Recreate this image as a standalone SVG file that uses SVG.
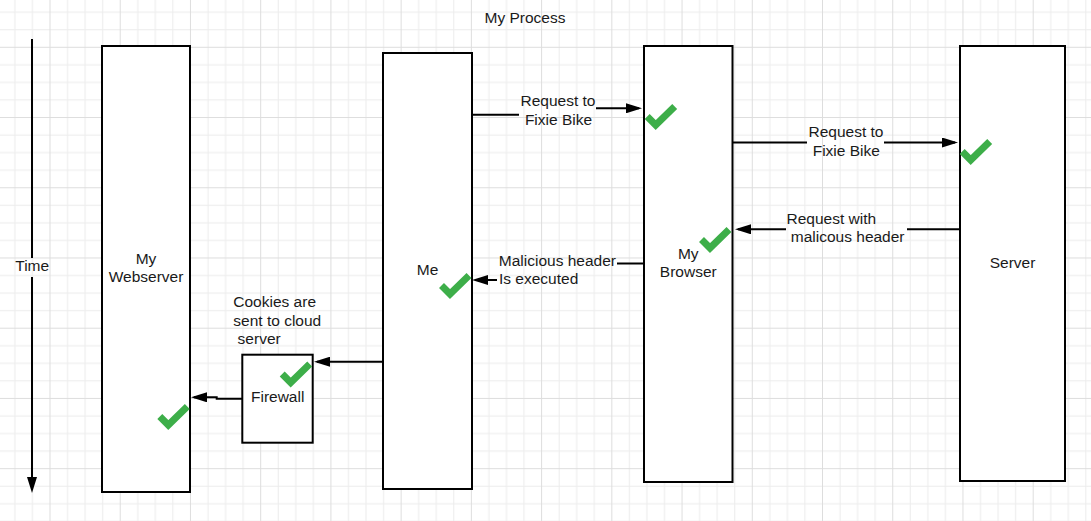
<svg xmlns="http://www.w3.org/2000/svg" width="1091" height="521" viewBox="0 0 1091 521">
<style>
  text { font-family: "Liberation Sans", Arial, sans-serif; font-size: 15.5px; fill: #1a1a1a; }
  .c { text-anchor: middle; }
  .box { fill: #ffffff; stroke: #000000; stroke-width: 2; }
  .ln { fill: none; stroke: #000000; stroke-width: 2; }
  .chk { fill: none; stroke: #3dae49; stroke-width: 7; stroke-linejoin: miter; stroke-linecap: butt; }
</style>
<defs>
  <pattern id="grid" patternUnits="userSpaceOnUse" x="49.5" y="46.8" width="70.228" height="70.228">
    <rect x="17.557" y="0" width="1" height="70.228" fill="#ececec"/>
    <rect x="35.114" y="0" width="1" height="70.228" fill="#ececec"/>
    <rect x="52.671" y="0" width="1" height="70.228" fill="#ececec"/>
    <rect x="0" y="17.557" width="70.228" height="1" fill="#ececec"/>
    <rect x="0" y="35.114" width="70.228" height="1" fill="#ececec"/>
    <rect x="0" y="52.671" width="70.228" height="1" fill="#ececec"/>
    <rect x="0" y="0" width="1" height="70.228" fill="#dddddd"/>
    <rect x="0" y="0" width="70.228" height="1" fill="#dddddd"/>
  </pattern>
  <marker id="ah" viewBox="0 0 16 10" refX="13" refY="5" markerWidth="16" markerHeight="10" markerUnits="userSpaceOnUse" orient="auto">
    <path d="M0,0 L16,5 L0,10 z" fill="#000"/>
  </marker>
  <path id="check" d="M-8.5,-8.5 L0,0 L19,-18.5"/>
</defs>
<rect x="0" y="0" width="1091" height="521" fill="#ffffff"/>
<rect x="0" y="0" width="1091" height="521" fill="url(#grid)"/>

<text class="c" x="525" y="23.3">My Process</text>

<g id="time-axis">
  <path class="ln" d="M32,39 V258"/>
  <path class="ln" d="M32,277 V490" marker-end="url(#ah)"/>
  <text class="c" x="32.2" y="271">Time</text>
</g>

<g id="webserver">
  <rect class="box" x="102" y="46" width="88" height="446"/>
  <text class="c" x="146" y="264">My</text>
  <text class="c" x="146" y="282.3">Webserver</text>
</g>

<g id="firewall">
  <rect class="box" x="242.3" y="354.7" width="70.4" height="88"/>
  <text class="c" x="277.7" y="401.7">Firewall</text>
</g>

<g id="me">
  <rect class="box" x="383" y="53" width="89" height="436"/>
  <text class="c" x="427.5" y="274.5">Me</text>
</g>

<g id="browser">
  <rect class="box" x="644" y="46" width="88.5" height="436"/>
  <text class="c" x="688.3" y="258.5">My</text>
  <text class="c" x="688.3" y="277">Browser</text>
</g>

<g id="server">
  <rect class="box" x="960" y="46" width="105" height="435"/>
  <text class="c" x="1012.5" y="268">Server</text>
</g>

<g id="connectors">
  <path class="ln" d="M472,114.7 H519"/>
  <path class="ln" d="M596,108.3 H639" marker-end="url(#ah)"/>
  <text class="c" x="558" y="106">Request to</text>
  <text class="c" x="558.5" y="124.5">Fixie Bike</text>

  <path class="ln" d="M733,142.5 H807"/>
  <path class="ln" d="M884,142.5 H955" marker-end="url(#ah)"/>
  <text class="c" x="846" y="137.3">Request to</text>
  <text class="c" x="846.3" y="155.7">Fixie Bike</text>

  <path class="ln" d="M960,229.3 H907"/>
  <path class="ln" d="M786,229.3 H738" marker-end="url(#ah)"/>
  <text x="786.5" y="224">Request with</text>
  <text x="790.8" y="242.4">malicous header</text>

  <path class="ln" d="M644,263.5 H617"/>
  <path class="ln" d="M497,280 H475" marker-end="url(#ah)"/>
  <text x="498.8" y="266">Malicious header</text>
  <text x="499" y="284.4">Is executed</text>

  <path class="ln" d="M383,361.7 H317" marker-end="url(#ah)"/>
  <text x="233.3" y="306.7">Cookies are</text>
  <text x="233.3" y="325.7">sent to cloud</text>
  <text x="237.6" y="344">server</text>

  <path class="ln" d="M242.3,398.7 H216.7 V397.3 H194" marker-end="url(#ah)"/>
</g>

<g id="checks" class="chk">
  <use href="#check" transform="translate(655.7,125)"/>
  <use href="#check" transform="translate(970.7,160)"/>
  <use href="#check" transform="translate(710,248)"/>
  <use href="#check" transform="translate(450,294)"/>
  <use href="#check" transform="translate(290.7,382.5)"/>
  <use href="#check" transform="translate(168.3,425)"/>
</g>
</svg>
